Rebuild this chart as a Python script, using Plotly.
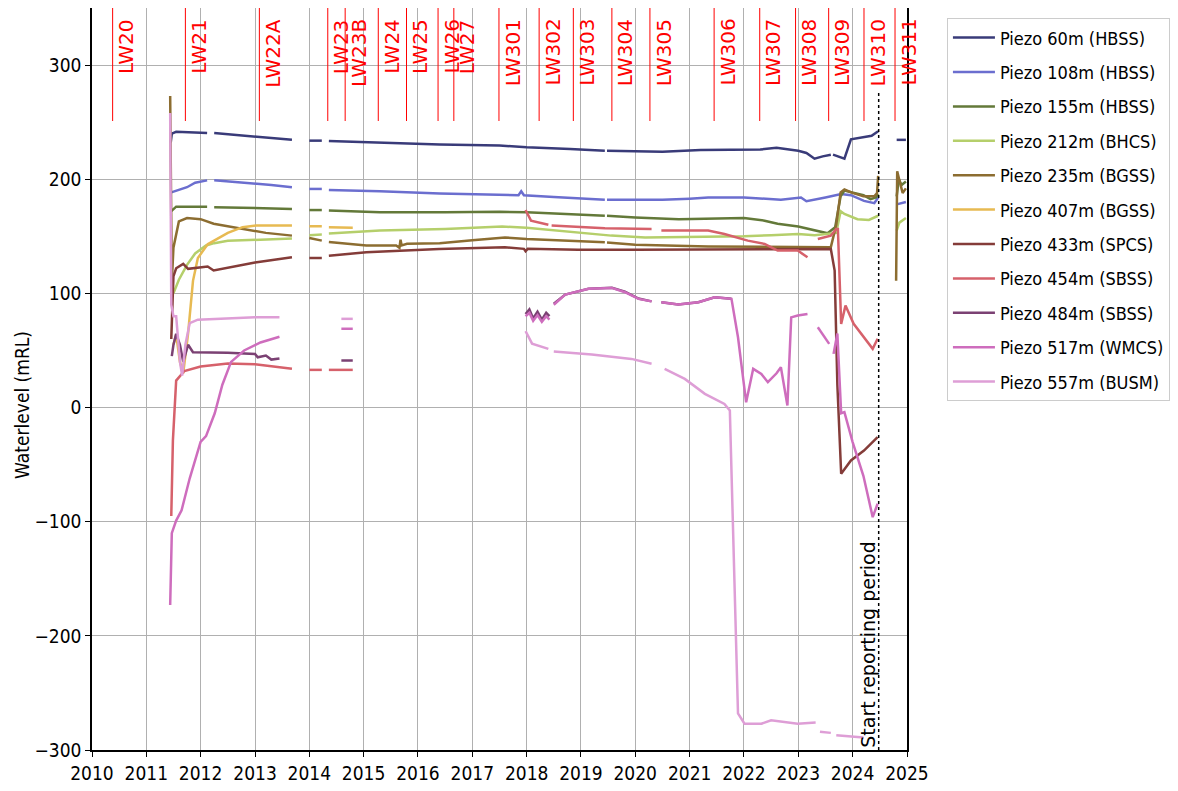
import pandas as pd
import plotly.graph_objects as go


def yr(v):
    # decimal year -> date string (None kept so lines break at gaps)
    if v is None:
        return None
    y = int(v)
    start = pd.Timestamp(year=y, month=1, day=1)
    end = pd.Timestamp(year=y + 1, month=1, day=1)
    return (start + (end - start) * (v - y)).strftime('%Y-%m-%d %H:%M')


# ---- piezometer data (decimal year, mRL), None = no data ----
p60_t = [2011.45, 2011.47, 2011.55, 2011.8, 2012.12, None, 2012.25, 2012.6, 2013.0, 2013.4, 2013.68, None,
         2014.0, 2014.23, None, 2014.36, 2015.3, 2016.4, 2017.5, 2018.0, 2018.8, 2019.44, None, 2019.48,
         2020.0, 2020.5, 2021.2, 2021.8, 2022.3, 2022.6, 2023.0, 2023.15, 2023.3, 2023.45, 2023.6, None,
         2023.64, 2023.85, 2023.97, 2024.2, 2024.35, 2024.47, None, 2024.81, 2024.98]
p60_v = [232, 240, 241.5, 241, 240.5, None, 240.5, 239, 237, 235.5, 234.5, None,
         233.8, 233.8, None, 233.5, 232, 230.5, 229.5, 228, 226.5, 225, None, 225,
         224.5, 224, 225.5, 226, 226, 227.5, 225, 223, 218, 220, 221.5, None,
         221.5, 218, 235, 237, 238, 242, None, 234.5, 234.5]

p108_t = [2011.46, 2011.6, 2011.75, 2011.9, 2012.12, None, 2012.25, 2012.8, 2013.3, 2013.68, None,
          2014.0, 2014.23, None, 2014.36, 2015.3, 2016.4, 2017.3, 2017.85, 2017.9, 2017.95, 2018.5,
          2019.0, 2019.44, None, 2019.48, 2020.0, 2020.5, 2021.0, 2021.34, 2022.0, 2022.68, 2023.05,
          2023.15, 2023.5, 2023.79, 2023.97, 2024.21, 2024.4, 2024.47, None, 2024.81, 2024.98]
p108_v = [188.5, 191, 193, 197, 199, None, 199, 197, 195, 193, None,
          191.5, 191.5, None, 190.5, 189.5, 187.5, 186.5, 186, 189.5, 186, 184.5,
          183, 182, None, 182, 182, 182, 183, 184, 184, 182, 184,
          180.7, 184, 187, 186, 181, 179, 184, None, 178, 180]

p155_t = [2011.46, 2011.55, 2012.12, None, 2012.25, 2013.0, 2013.68, None, 2014.0, 2014.23, None,
          2014.36, 2015.3, 2016.5, 2017.5, 2018.0, 2018.8, 2019.44, None, 2019.48, 2020.0, 2020.8,
          2021.34, 2022.0, 2022.38, 2022.62, 2023.0, 2023.24, 2023.54, 2023.68, 2023.78, 2023.85,
          2024.0, 2024.2, 2024.33, 2024.43, 2024.47, None, 2024.81, 2024.85, 2024.9, 2024.98]
p155_v = [172, 176, 176, None, 175.5, 174.5, 174, None, 173, 173, None,
          172.5, 171, 171, 171.5, 171, 169.5, 168, None, 168, 166.5, 165,
          165.6, 166, 163.7, 161, 158.5, 155.6, 152.6, 158, 185, 190,
          188, 186, 182.6, 184, 187, None, 185, 200, 195, 198]

p212_t = [2011.5, 2011.6, 2011.75, 2011.9, 2012.1, 2012.25, 2012.5, 2013.0, 2013.68, None,
          2014.0, 2014.23, None, 2014.36, 2015.3, 2016.5, 2017.55, 2018.0, 2018.95, 2019.56,
          2020.18, 2021.34, 2022.0, 2022.5, 2023.0, 2023.3, 2023.5, 2023.7, 2023.78, 2023.85,
          2024.09, 2024.3, 2024.47, None, 2024.81, 2024.86, 2024.98]
p212_v = [100, 112, 125, 135, 142, 144, 146, 147, 148, None,
          151, 151.5, None, 152.5, 155, 156.5, 158.5, 157.5, 153.5, 150.6,
          149, 149.7, 150, 151, 152, 151, 152, 153, 172, 169.6,
          165, 164.3, 168, None, 155, 162, 166]

p235_t = [2011.44, 2011.46, 2011.47, 2011.5, 2011.6, 2011.75, 2012.0, 2012.24, 2012.7, 2013.2, 2013.68,
          None, 2014.0, 2014.23, None, 2014.36, 2015.05, 2015.6, 2015.66, 2015.68, 2015.7, 2015.8,
          2016.4, 2017.0, 2017.6, 2018.0, 2018.95, 2019.44, None, 2019.48, 2020.0, 2021.34, 2022.0,
          2022.8, 2023.3, 2023.6, 2023.7, 2023.78, 2023.85, 2024.0, 2024.2, 2024.4, 2024.45, 2024.47,
          None, 2024.8, 2024.82, 2024.86, 2024.92, 2024.98]
p235_v = [273, 150, 110, 140, 163, 166, 165, 161, 157, 153, 150.6,
          None, 148.6, 146.2, None, 145, 141.9, 142, 140, 147, 142, 143.5,
          144, 146.5, 149, 147.7, 146.2, 144.8, None, 144.5, 142.7, 141, 141,
          140.5, 140.5, 140.5, 160, 188.5, 191, 188, 185, 185, 188, 203,
          None, 111, 207, 199, 188, 192]

p407_t = [2011.5, 2011.55, 2011.62, 2011.68, 2011.77, 2011.86, 2011.95, 2012.13, 2012.24, 2012.5,
          2012.77, 2013.02, 2013.68, None, 2014.0, 2014.23, None, 2014.36, 2014.8]
p407_v = [55, 64, 40, 30, 65, 111, 131, 143, 146, 153,
          158, 159.4, 159.4, None, 158.8, 158.8, None, 157.9, 157.5]

p433_t = [2011.46, 2011.5, 2011.55, 2011.68, 2011.77, 2012.13, 2012.24, 2013.0, 2013.68, None,
          2014.0, 2014.23, None, 2014.36, 2015.05, 2016.39, 2017.0, 2017.6, 2017.95, 2017.98, 2018.02,
          2018.95, 2020.0, 2021.34, 2022.5, 2023.6, 2023.67, 2023.72, 2023.79, 2023.97, 2024.21, 2024.46]
p433_v = [60, 115, 122, 125.8, 121.5, 123.5, 120, 127, 131.6, None,
          131, 131, None, 133, 136, 138.9, 139.5, 140.4, 139, 136.9, 139,
          138.3, 138.3, 138.3, 138.5, 138.9, 120, 20, -58, -46.4, -37.7, -26]

p454_t = [2011.46, 2011.49, 2011.55, 2011.62, 2011.7, 2012.0, 2012.5, 2013.0, 2013.3, 2013.68, None,
          2014.0, 2014.23, None, 2014.36, 2014.8, None,
          2017.98, 2018.08, 2018.4, None, 2018.46, 2019.44, 2020.3, None, 2020.48, 2021.34, 2021.64,
          2022.07, 2022.38, 2022.62, 2022.99, 2023.17, None, 2023.36, 2023.6, 2023.7, 2023.73,
          2023.79, 2023.87, 2024.02, 2024.37, 2024.46]
p454_v = [-95, -29, 23.6, 28, 32, 36, 38.5, 38, 36, 34, None,
          33, 33, None, 33, 33, None,
          173, 163.7, 160.2, None, 159.4, 157, 156.5, None, 155, 155, 152,
          146.2, 143.3, 137.5, 137.5, 131.6, None, 147.7, 150.6, 156.5, 156.5,
          73.3, 89.3, 73.3, 51.4, 60.2]

p484_t = [2011.47, 2011.5, 2011.55, 2011.62, 2011.68, 2011.77, 2011.86, 2012.5, 2013.0, 2013.05,
          2013.2, 2013.3, 2013.45, None, 2014.59, 2014.8, None,
          2017.98, 2018.05, 2018.12, 2018.2, 2018.28, 2018.36, 2018.42, None, 2018.5, 2018.71,
          2019.14, 2019.57, 2019.81, 2020.06, 2020.3, None, 2020.48, 2020.79, 2021.16, 2021.46, 2021.77]
p484_v = [45, 55, 64.5, 55, 40, 55, 48.4, 48, 47, 44,
          45.5, 42, 43, None, 41.2, 41.2, None,
          82, 86, 78, 84, 77, 83, 80, None, 91, 99,
          104, 105, 101.5, 95.5, 93, None, 92.2, 90.2, 92.2, 96.6, 95.2]

p517_t = [2011.44, 2011.47, 2011.55, 2011.65, 2011.8, 2012.0, 2012.1, 2012.26, 2012.4, 2012.56,
          2012.8, 2013.1, 2013.45, None, 2014.59, 2014.8, None,
          2017.98, 2018.05, 2018.12, 2018.2, 2018.28, 2018.36, 2018.42, None, 2018.5, 2018.71,
          2019.14, 2019.57, 2019.81, 2020.06, 2020.3, None, 2020.48, 2020.79, 2021.16, 2021.46,
          2021.77, 2021.89, 2022.04, 2022.17, 2022.32, 2022.44, 2022.6, 2022.68, 2022.8, 2022.87,
          2022.99, 2023.17, None, 2023.36, 2023.57, None, 2023.65, 2023.72, 2023.79, 2023.85,
          2024.0, 2024.2, 2024.37, 2024.46]
p517_v = [-173, -110, -99, -90, -62, -30, -25, -5, 20, 40,
          50, 57, 62, None, 69, 69, None,
          80, 83, 76, 81, 75, 80, 77, None, 90, 99,
          104, 104.8, 101, 95.2, 93, None, 92.2, 90.2, 92.2, 96.6,
          95.2, 61.6, 4.6, 33.9, 29.5, 22.2, 30, 35.3, 1.8, 79,
          80.6, 82, None, 70.3, 55.8, None, 47, 64.8, -5, -4,
          -30, -60, -96, -84.3]

p557_t = [2011.44, 2011.46, 2011.5, 2011.55, 2011.62, 2011.66, 2011.72, 2011.8, 2011.95, 2012.5,
          2013.0, 2013.45, None, 2014.59, 2014.8, None,
          2017.98, 2018.1, 2018.4, None, 2018.5, 2018.71, 2019.2, 2019.93, 2020.3, None, 2020.54,
          2020.91, 2021.28, 2021.64, 2021.74, 2021.83, 2021.89, 2022.01, 2022.32, 2022.5, 2022.99,
          2023.32, None, 2023.4, 2023.6, None, 2023.7, 2024.0, 2024.2]
p557_v = [258, 90, 80, 80, 40, 28, 55, 74, 77, 78,
          79, 79, None, 77.7, 77.7, None,
          67, 56, 51.4, None, 49, 48.4, 46.4, 42.6, 38.3, None, 33.9,
          25.1, 12, 3.2, -2.6, -172, -268, -277, -277, -274, -277,
          -276, None, -284, -285, None, -287, -288, -289]

series_names = ['Piezo 60m (HBSS)', 'Piezo 108m (HBSS)', 'Piezo 155m (HBSS)', 'Piezo 212m (BHCS)',
                'Piezo 235m (BGSS)', 'Piezo 407m (BGSS)', 'Piezo 433m (SPCS)', 'Piezo 454m (SBSS)',
                'Piezo 484m (SBSS)', 'Piezo 517m (WMCS)', 'Piezo 557m (BUSM)']
series_t = [p60_t, p108_t, p155_t, p212_t, p235_t, p407_t, p433_t, p454_t, p484_t, p517_t, p557_t]
series_v = [p60_v, p108_v, p155_v, p212_v, p235_v, p407_v, p433_v, p454_v, p484_v, p517_v, p557_v]
colors = ['#393b79', '#6b6ecf', '#637939', '#b5cf6b', '#8c6d31', '#e7ba52',
          '#843c39', '#d6616b', '#7b4173', '#ce6dbd', '#de9ed6']

# longwall start dates
lw_names = ['LW20', 'LW21', 'LW22A', 'LW23', 'LW23B', 'LW24', 'LW25', 'LW26', 'LW27', 'LW301',
            'LW302', 'LW303', 'LW304', 'LW305', 'LW306', 'LW307', 'LW308', 'LW309', 'LW310', 'LW311']
lw_dates = [2010.38, 2011.72, 2013.08, 2014.34, 2014.66, 2015.27, 2015.79, 2016.37, 2016.66, 2017.49,
            2018.23, 2018.86, 2019.57, 2020.27, 2021.45, 2022.29, 2022.95, 2023.56, 2024.21, 2024.78]
report_start = 2024.48

narrow = 'DejaVu Sans Condensed, DejaVu Sans, sans-serif'
dejavu = 'DejaVu Sans, sans-serif'

fig = go.Figure()
for name, t, v, c in zip(series_names, series_t, series_v, colors):
    fig.add_trace(go.Scatter(x=[yr(a) for a in t], y=v, mode='lines', name=name,
                             legendgroup=name, line=dict(color=c, width=2.5)))

shapes = []
annotations = []
for name, d in zip(lw_names, lw_dates):
    shapes.append(dict(type='line', xref='x', yref='y', x0=yr(d), x1=yr(d), y0=251, y1=350,
                       line=dict(color='red', width=1)))
    annotations.append(dict(x=yr(d), y=0.988, xref='x', yref='paper', text=name, showarrow=False,
                            textangle=-90, xanchor='left', yanchor='top', xshift=0,
                            font=dict(color='red', size=20, family=dejavu)))

shapes.append(dict(type='line', xref='x', yref='y', x0=yr(report_start), x1=yr(report_start),
                   y0=-300, y1=276, line=dict(color='black', width=1.5, dash='dot')))
annotations.append(dict(x=yr(report_start), y=-300, xref='x', yref='y', text='Start reporting period',
                        showarrow=False, textangle=-90, xanchor='right', yanchor='bottom', xshift=2,
                        font=dict(color='black', size=19, family=dejavu)))

# y axis title, placed a little below the axis centre like the original
annotations.append(dict(x=-0.086, y=0.465, xref='paper', yref='paper', text='Waterlevel (mRL)',
                        showarrow=False, textangle=-90, xanchor='center', yanchor='middle',
                        font=dict(size=19, family=narrow, color='black')))

# page body adds an 8px offset, so the figure is sized to fit inside it
fig.update_layout(
    width=1162, height=775,
    margin=dict(l=84, r=260, t=0, b=33),
    plot_bgcolor='white', paper_bgcolor='white',
    shapes=shapes, annotations=annotations,
    showlegend=True,
    legend=dict(x=1.049, y=0.986, xanchor='left', yanchor='top', bordercolor='#cccccc',
                borderwidth=1, font=dict(size=18, family=narrow, color='black'),
                tracegroupgap=8, itemwidth=42),
)
fig.update_xaxes(type='date', range=[yr(2010.0), yr(2025.0)], dtick='M12', tick0='2010-01-01',
                 tickformat='%Y', tickangle=0, automargin=False,
                 showgrid=True, gridcolor='#b0b0b0', gridwidth=1,
                 showline=True, linecolor='black', linewidth=1.5, mirror=True,
                 ticks='outside', ticklen=5, tickcolor='black',
                 tickfont=dict(size=19, family=narrow, color='black'))
fig.update_yaxes(range=[-300, 350], dtick=100, tick0=0, automargin=False,
                 showgrid=True, gridcolor='#b0b0b0',
                 gridwidth=1, zeroline=False, showline=True, linecolor='black', linewidth=1.5,
                 mirror=True, ticks='outside', ticklen=5, tickcolor='black',
                 tickfont=dict(size=19, family=narrow, color='black'))

fig.write_html('out.html')
